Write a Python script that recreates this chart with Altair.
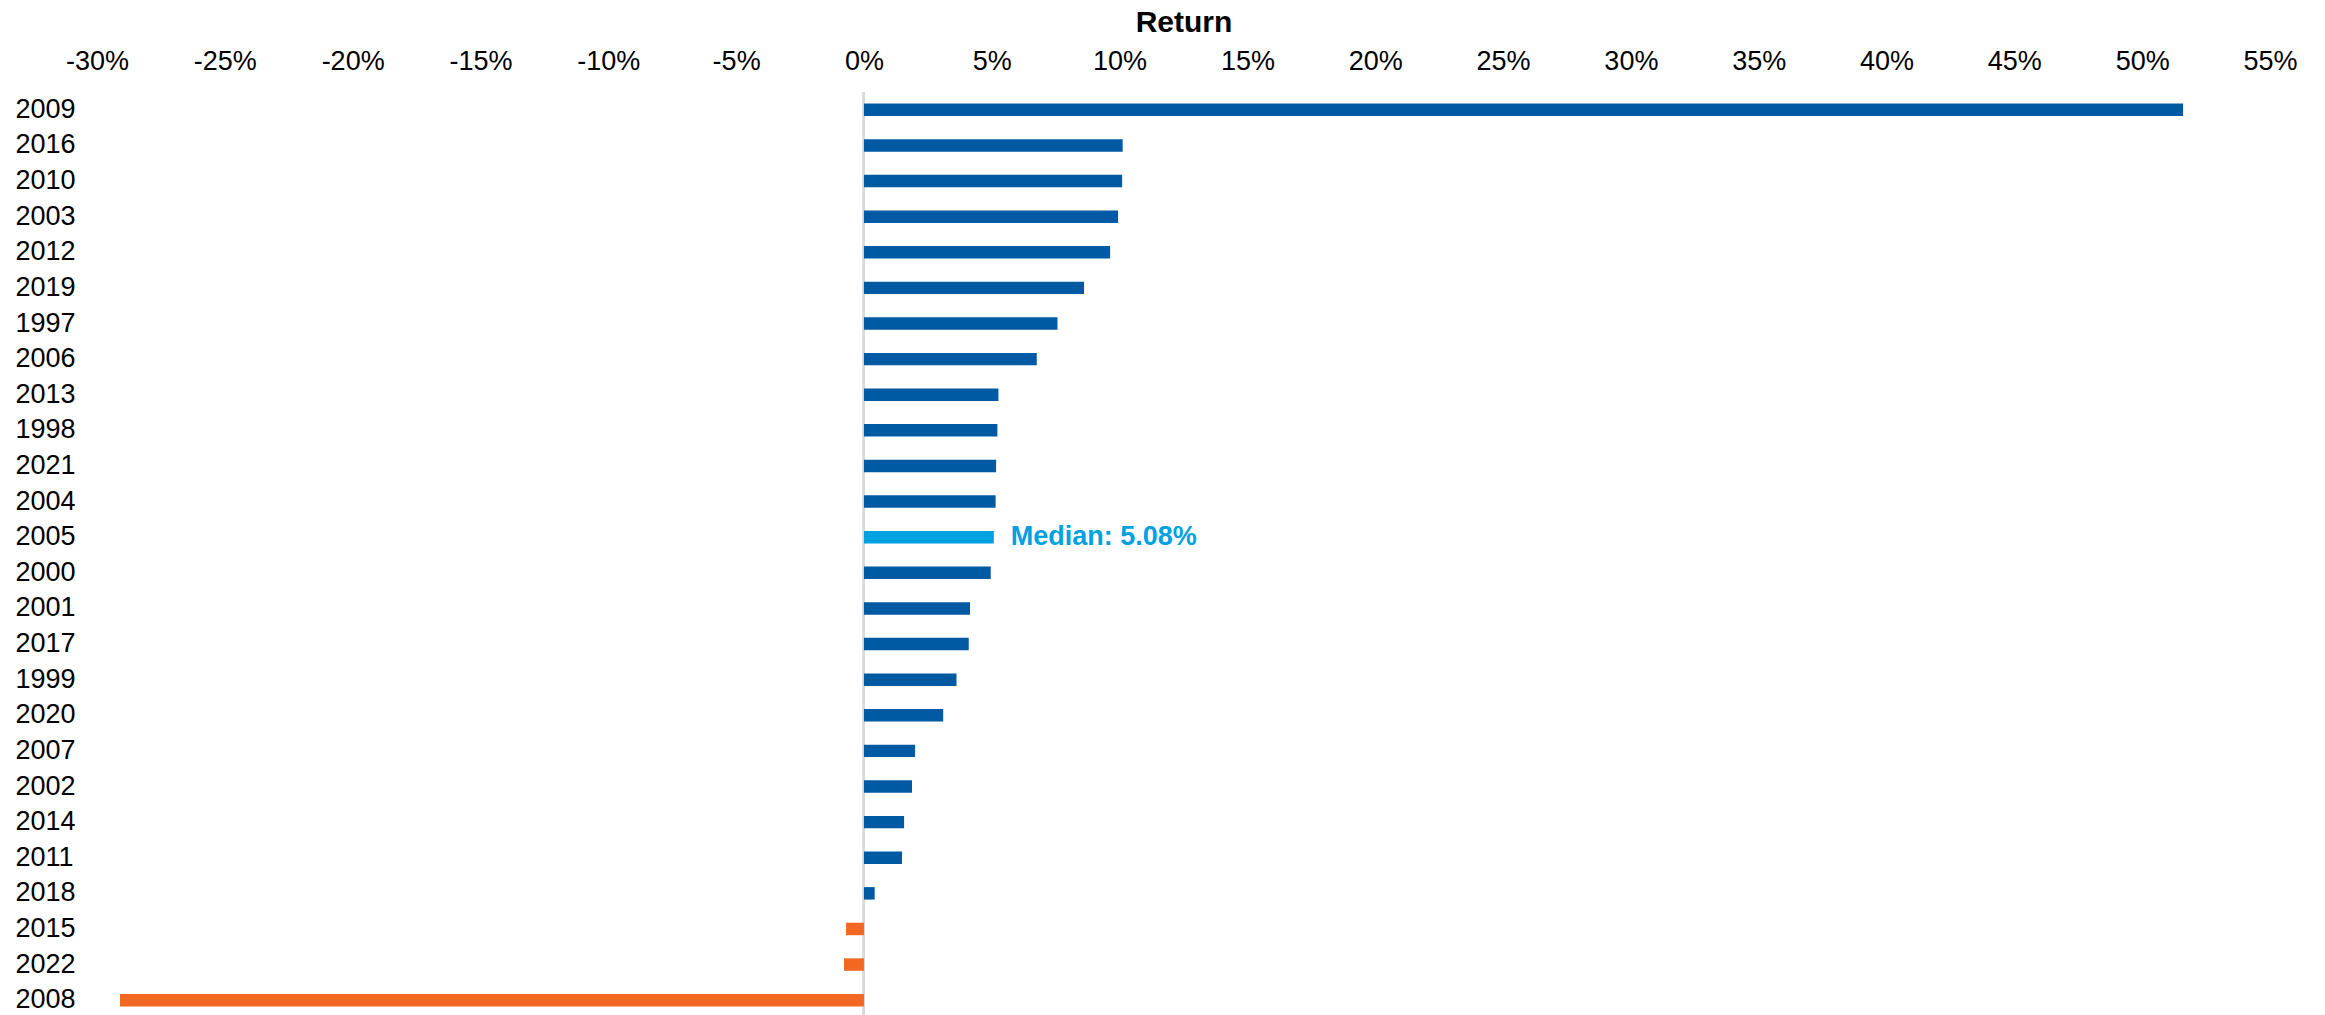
import altair as alt
import pandas as pd

years = ["2009", "2016", "2010", "2003", "2012", "2019", "1997", "2006", "2013", "1998",
         "2021", "2004", "2005", "2000", "2001", "2017", "1999", "2020", "2007", "2002",
         "2014", "2011", "2018", "2015", "2022", "2008"]
returns = [51.6, 10.12, 10.10, 9.94, 9.63, 8.61, 7.57, 6.76, 5.26, 5.22,
           5.17, 5.15, 5.08, 4.96, 4.15, 4.10, 3.62, 3.10, 2.00, 1.88,
           1.57, 1.49, 0.42, -0.70, -0.78, -29.1]
median_year = "2005"
x_ticks = list(range(-30, 60, 5))

kinds = ["median" if y == median_year else ("neg" if r < 0 else "pos")
         for y, r in zip(years, returns)]
df = pd.DataFrame({"year": years, "ret": returns, "kind": kinds})

FONT = "Liberation Sans"

base = alt.Chart(df)

bars = base.mark_bar().encode(
    x=alt.X("ret:Q",
            scale=alt.Scale(domain=[-30, 55], nice=False, zero=False),
            axis=alt.Axis(orient="top", values=x_ticks,
                          labelExpr="datum.value + '%'",
                          title="Return", titleFontSize=30, titleFontWeight="bold",
                          titleFont=FONT, titleColor="black", titleY=-61,
                          titleBaseline="alphabetic",
                          labelFont=FONT, labelFontSize=27, labelColor="black",
                          labelPadding=17, ticks=False, domain=False, grid=False,
                          labelFlush=False, labelOverlap=False)),
    y=alt.Y("year:N", sort=years,
            scale=alt.Scale(paddingInner=0.65, paddingOuter=0.325),
            axis=alt.Axis(title=None, labelFont=FONT, labelFontSize=27,
                          labelColor="black", labelPadding=82, labelAlign="left",
                          ticks=False, domain=False, grid=False)),
    color=alt.Color("kind:N",
                    scale=alt.Scale(domain=["pos", "median", "neg"],
                                    range=["#005AA3", "#00A1E0", "#F26722"]),
                    legend=None),
)

zero = base.mark_rule(color="#D9D9D9", strokeWidth=2).encode(x=alt.datum(0))

label = base.transform_filter(
    alt.datum.kind == "median"
).transform_calculate(
    lbl="'Median: ' + format(datum.ret, '.2f') + '%'"
).mark_text(align="left", baseline="middle", dx=17, font=FONT, fontSize=27,
            fontWeight="bold", color="#00A1E0").encode(
    x="ret:Q", y=alt.Y("year:N", sort=years), text="lbl:N")

chart = alt.layer(zero, bars, label).properties(
    width=2173, height=926,
    autosize=alt.AutoSizeParams(type="none"),
    padding={"left": 89, "top": 84, "right": 40, "bottom": 0},
).configure_view(stroke=None)

chart.save("out.html", embed_options={"renderer": "svg", "actions": False})
